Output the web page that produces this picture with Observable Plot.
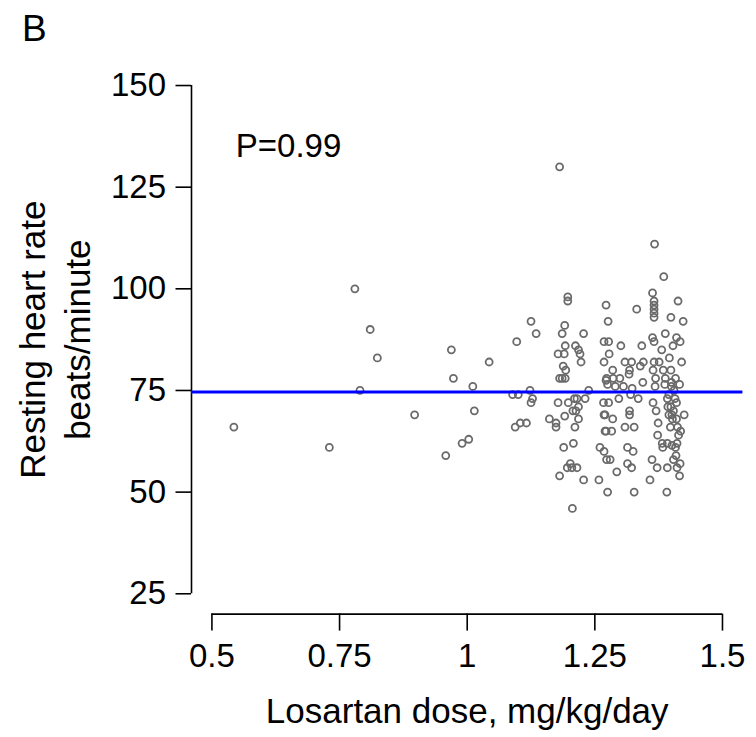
<!DOCTYPE html>
<html>
<head>
<meta charset="utf-8">
<script src="https://cdn.jsdelivr.net/npm/d3@7"></script>
<script src="https://cdn.jsdelivr.net/npm/@observablehq/plot@0.6"></script>
<style>
  html, body { margin: 0; padding: 0; background: #fff; }
  #chart svg { display: block; }
</style>
</head>
<body>
<div id="chart"></div>
<script>
// ---- data ----
const dose = [
  0.543,0.730,0.780,0.790,0.810,0.824,0.897,0.958,0.969,0.973,0.990,1.003,1.011,1.014,1.043,
  1.089,1.094,1.097,1.100,1.104,1.116,1.123,1.125,1.125,1.128,1.135,
  1.181,1.197,1.197,1.272,1.191,1.186,1.228,1.276,1.192,1.178,1.212,1.218,1.221,1.190,1.188,
  1.193,1.186,1.192,1.223,1.268,1.268,1.272,1.181,1.238,1.178,1.198,1.207,1.210,1.213,1.218,
  1.215,1.231,1.191,1.161,1.174,1.174,1.218,1.211,1.268,1.272,1.189,1.208,1.260,1.268,1.273,
  1.202,1.196,1.205,1.215,1.181,1.228,1.258,1.275,1.206,
  1.367,1.385,1.363,1.366,1.366,1.366,1.366,1.366,1.413,1.332,1.399,1.423,1.363,1.388,1.410,
  1.366,1.417,1.277,1.301,1.342,1.381,1.403,1.278,1.396,1.309,1.322,1.345,1.339,1.366,1.376,
  1.420,1.285,1.318,1.364,1.384,1.399,1.273,1.286,1.299,1.317,1.369,1.388,1.408,1.275,1.290,
  1.306,1.323,1.344,1.368,1.387,1.400,1.416,1.267,1.277,1.297,1.320,1.335,1.364,1.392,1.399,
  1.404,1.410,1.401,1.410,1.318,1.318,1.270,1.285,1.370,1.425,1.395,1.374,1.402,1.270,1.283,
  1.309,1.327,1.412,1.418,1.414,1.373,1.382,1.392,1.401,1.411,1.314,1.325,1.383,1.408,1.409,
  1.280,1.314,1.322,1.362,1.404,1.372,1.392,1.411,1.417,1.293,1.416,1.358,1.327,1.391,
  1.395,1.405,1.400,1.393,1.407,1.398
];
const heartRate = [
  66,61,100,75,90,83,69,59,85,78,62,63,76,70,82,
  74,66,87,74,67,67,75,92,72,73,89,
  130,98,97,96,91,89,89,92,86,84,86,85,84,84,81,
  80,78,78,82,87,82,77.5,78,75,72,72,70,73,70,71,
  73,73,68.7,68,67,66,68,66,69,65,61,62,61,60,58,
  57,56,56,56,54,53,53,50,46,
  111,103,99,97,96,95,94,93,97,95,93,92,88,89,88,
  87,87,87,86,86,85,86,84,83,82,82,82,81,82,82,
  82,80,80,80,80,80,78,78,78,79,78,78,78,76.5,76,
  76,75.5,77,76,76.5,76,76.5,72,72,73,74,73,72,73,71,
  70,72,69,68,70,69,69,68,70,69,69,67,68,65,65,
  66,66,66,65,64,64,62,62,61.5,62,61,60,61,61,59,
  58,57,56,58,58,56,56,56,57,55,54,53,50,50,
  74,75,77,71,73,66
];
const meanHeartRate = 74.6;
const xTicks = [0.5, 0.75, 1, 1.25, 1.5];
const yTicks = [25, 50, 75, 100, 125, 150];
const xDomain = [0.46, 1.54];
const yDomain = [20, 155];
const pLabel = {x: 0.65, y: 135, text: "P=0.99"};
const panelLabel = "B";
const xTitle = "Losartan dose, mg/kg/day";
const yTitle = "Resting heart rate\nbeats/minute";

const points = dose.map((d, i) => ({dose: d, hr: heartRate[i]}));

const FS = 33;      // tick labels, P label
const TFS = 35;     // axis titles
const BFS = 37;     // panel letter
const chart = Plot.plot({
  width: 756,
  height: 737,
  marginLeft: 191,
  marginRight: 13.6,
  marginTop: 64.7,
  marginBottom: 123.4,
  style: {fontFamily: "'Liberation Sans', Arial, sans-serif", fontSize: FS + "px", color: "#000", background: "#fff"},
  x: {domain: xDomain},
  y: {domain: yDomain},
  marks: [
    // axis lines (R-style, spanning first to last tick)
    Plot.ruleX([xDomain[0]], {y1: yTicks[0], y2: yTicks[yTicks.length - 1], stroke: "#000", strokeWidth: 1.6}),
    Plot.ruleY([yDomain[0]], {x1: xTicks[0], x2: xTicks[xTicks.length - 1], stroke: "#000", strokeWidth: 1.6}),
    Plot.axisX({ticks: xTicks, tickSize: 17, tickPadding: 12, tickFormat: d => String(d), label: null,
      fontSize: FS, strokeWidth: 1.6, stroke: "#000", fill: "#000"}),
    Plot.axisY({ticks: yTicks, tickSize: 15.5, tickPadding: 10, tickFormat: d => String(d), label: null,
      fontSize: FS, strokeWidth: 1.6, stroke: "#000", fill: "#000"}),
    Plot.dot(points, {x: "dose", y: "hr", r: 3.5, stroke: "#6a6a6a", strokeWidth: 1.8, fill: "none"}),
    Plot.ruleY([meanHeartRate], {stroke: "#0000ff", strokeWidth: 3}),
    Plot.text([pLabel], {x: "x", y: "y", text: "text", fontSize: FS, fill: "#000"}),
    Plot.text([xTitle], {frameAnchor: "bottom", lineAnchor: "middle", textAnchor: "middle", dy: 97.2, fontSize: TFS, fill: "#000"}),
    Plot.text([yTitle], {frameAnchor: "left", textAnchor: "middle", lineAnchor: "middle", rotate: -90, dx: -138, lineHeight: 45 / TFS, fontSize: TFS, fill: "#000"}),
    Plot.text([panelLabel], {frameAnchor: "top-left", textAnchor: "start", lineAnchor: "middle", dx: -169.5, dy: -(64.7 - 40.7 + 0.32 * BFS), fontSize: BFS, fill: "#000"})
  ]
});
document.getElementById("chart").appendChild(chart);
</script>
</body>
</html>
